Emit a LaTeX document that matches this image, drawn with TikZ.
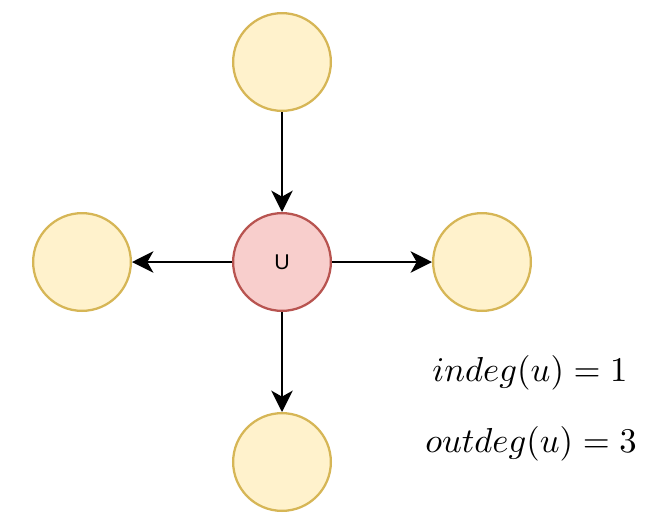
\documentclass[tikz,border=0pt]{standalone}
\usepackage{fontspec}
\newfontfamily\labelfont{Liberation Sans}
\usetikzlibrary{arrows.meta}
\definecolor{yfill}{HTML}{FFF2CC}
\definecolor{ystroke}{HTML}{D6B656}
\definecolor{rfill}{HTML}{F8CECC}
\definecolor{rstroke}{HTML}{B85450}
\begin{document}
\begin{tikzpicture}[x=0.75pt,y=-0.75pt,
  vert/.style={circle,draw=ystroke,fill=yfill,line width=1.7pt,minimum size=75pt-1.7pt,inner sep=0pt},
  center/.style={circle,draw=rstroke,fill=rfill,line width=1.7pt,minimum size=75pt-1.7pt,inner sep=0pt},
  ulabel/.style={font=\labelfont\fontsize{16}{18}\selectfont,inner sep=0pt},
  edge/.style={line width=1.8pt,-{Stealth[length=16pt,width=16pt,inset=4.5pt]}},
  mathlbl/.style={scale=2.6,inner sep=0pt}]
\useasboundingbox (0,0) rectangle (651,526);
\node[vert] (top) at (282,62) {};
\node[vert] (left) at (82,262) {};
\node[vert] (right) at (482,262) {};
\node[vert] (bottom) at (282,462) {};
\node[center] (u) at (282,262) {};
\node[ulabel] (ulab) at (u.center) {U};
\draw[edge] (top) -- (u);
\draw[edge] (u) -- (left);
\draw[edge] (u) -- (right);
\draw[edge] (u) -- (bottom);
\node[mathlbl] (in) at (530,373) {$indeg(u) = 1$};
\node[mathlbl] (out) at (531,444) {$outdeg(u) = 3$};
\end{tikzpicture}
\end{document}
